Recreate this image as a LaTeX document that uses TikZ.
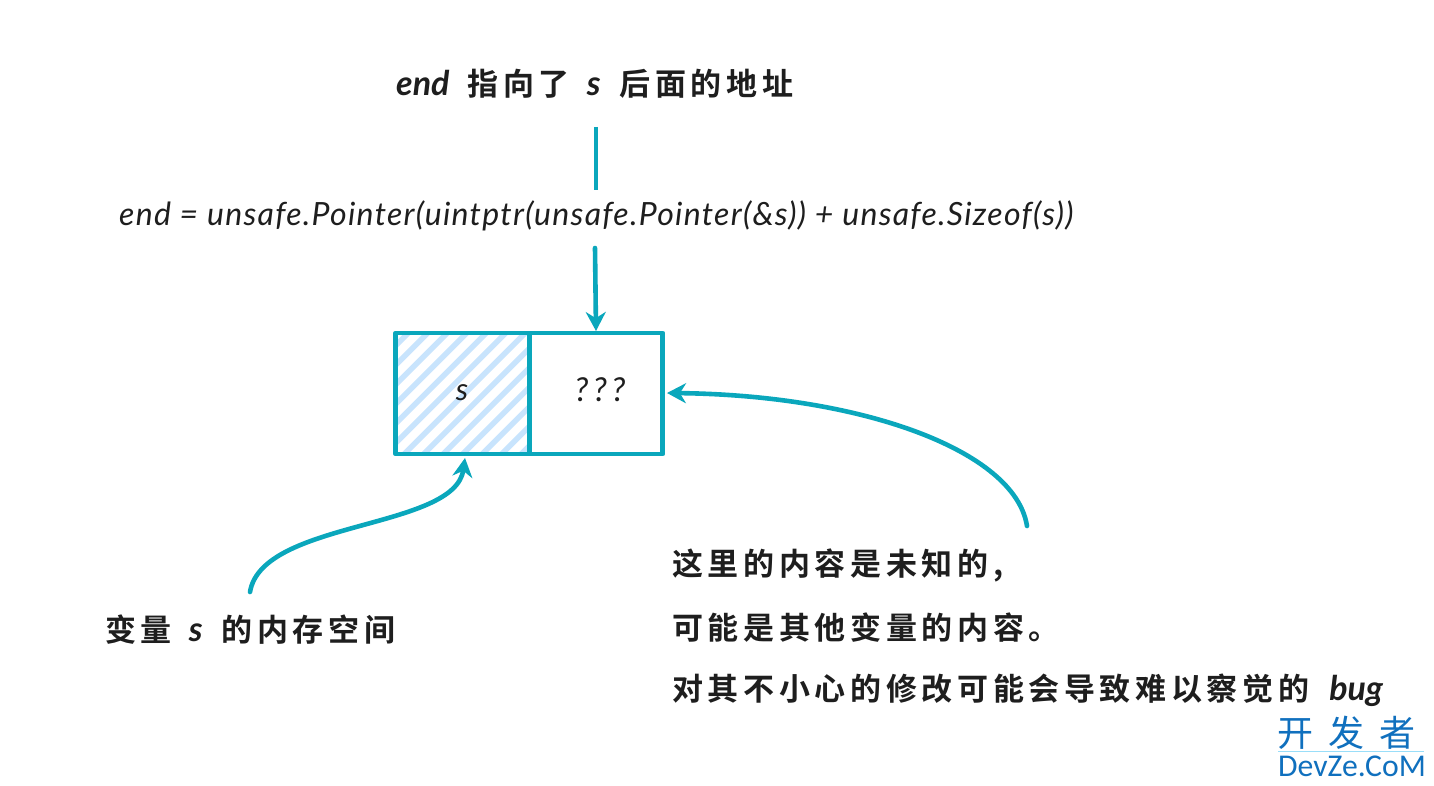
\documentclass[tikz,border=0pt]{standalone}
\usepackage{fontspec}
\usetikzlibrary{arrows.meta,calc}
\setmainfont{Lato}
\newfontfamily\cjk[LetterSpace=15]{Noto Sans CJK SC Bold}
\newfontfamily\wm[LetterSpace=42]{Noto Sans CJK SC}
\newfontfamily\lat{Lato Bold Italic}
\newfontfamily\codef[LetterSpace=4]{Lato Italic}
\newfontfamily\qf[LetterSpace=14]{Lato Italic}
\newfontfamily\wmlat{Carlito}
\definecolor{teal1}{HTML}{0AA7BC}
\definecolor{hatch}{HTML}{C8E4FD}
\definecolor{ink}{HTML}{1E1E1E}
\definecolor{wmblue}{HTML}{1070BE}
\newcommand{\cj}[1]{{\cjk\fontsize{31}{36}\selectfont #1}}
\newcommand{\lt}[1]{{\lat\fontsize{34}{36}\selectfont #1}}
\tikzset{
  x=1pt,y=-1pt,
  cell/.style={draw=teal1,line width=4.8pt,minimum width=133.5pt,minimum height=121pt,inner sep=0pt,line join=round,text=ink},
  conn/.style={draw=teal1,line width=4.6pt,line cap=round,-{Stealth[length=19pt,width=20pt]}},
  plainconn/.style={draw=teal1,line width=4.6pt},
  label/.style={inner sep=0pt,anchor=west,text=ink},
}
\begin{document}
\begin{tikzpicture}
\useasboundingbox (0,0) rectangle (1434,786);
\fill[white] (0,0) rectangle (1434,786);
\node[cell,path picture={
  \foreach \i in {0,...,20}{
    \draw[hatch,line width=5.5pt] ($(path picture bounding box.south west)+(-130+\i*19.5,2)$) -- ++(140,-140);
  }}] (bs) at (462.5,393.5) {};
\node[cell] (bq) at (596,393.5) {};
\node[text=ink,font=\codef\fontsize{31}{34}\selectfont,inner sep=0pt] (ls) at (462,393) {s};
\node[text=ink,font=\qf\fontsize{33}{36}\selectfont,inner sep=0pt] (lq) at (600,390) {???};
\node[label] (title) at (396,84) {\lt{end}\hspace{18pt}\cj{指向了}\hspace{17pt}\lt{s}\hspace{19pt}\cj{后面的地址}};
\node[label,font=\codef\fontsize{32}{36}\selectfont] (code) at (119,216) {end = unsafe.Pointer(uintptr(unsafe.Pointer(\&s)) + unsafe.Sizeof(s))};
\node[label] (vs) at (105,630) {\cj{变量}\hspace{17pt}\lt{s}\hspace{19pt}\cj{的内存空间}};
\node[label] (l1) at (672,565) {\cj{这里的内容是未知的,}};
\node[label] (l2) at (672,628) {\cj{可能是其他变量的内容。}};
\node[label] (l3) at (672,690) {\cj{对其不小心的修改可能会导致难以察觉的}\hspace{20pt}\lt{bug}};
\coordinate (t1) at (596,127);
\coordinate (c1) at (596,190);
\coordinate (c2) at (595,248);
\coordinate (tq) at (596,331);
\coordinate (vsS) at (250,592);
\coordinate (tb) at (465,458);
\coordinate (r1) at (1027,526);
\coordinate (tr) at (667,393);
\draw[plainconn] (t1) -- (c1);
\draw[conn] (c2) -- (tq);
\draw[conn] (vsS) .. controls (262,520) and (455,530) .. (tb);
\draw[conn] (r1) .. controls (1015,450) and (860,395) .. (tr);
\node[inner sep=0pt,text=wmblue,anchor=west] (wm1) at (1277,733) {\wm\fontsize{36}{38}\selectfont 开发者};
\node[inner sep=0pt,text=wmblue,anchor=west] (wm2) at (1278,766) {\wmlat\fontsize{31.7}{34}\selectfont DevZe.CoM};
\coordinate (wa) at (1278,751);
\coordinate (wb) at (1424,751);
\draw[cyan!40!white,line width=0.8pt] (wa) -- (wb);
\end{tikzpicture}
\end{document}
